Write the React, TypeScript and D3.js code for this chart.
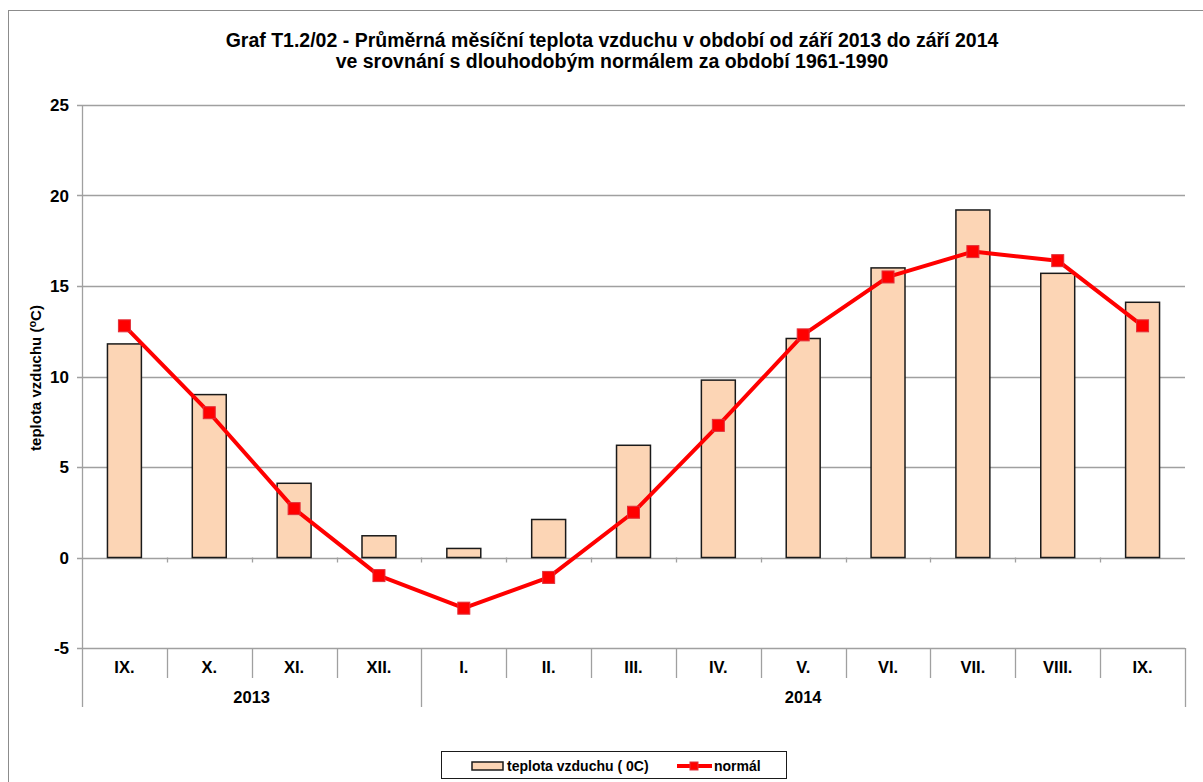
import React, { useEffect, useRef } from "react";
import * as d3 from "d3";

const months = ["IX.", "X.", "XI.", "XII.", "I.", "II.", "III.", "IV.", "V.", "VI.", "VII.", "VIII.", "IX."];
const years = [
    { label: "2013", from: 0, to: 3 },
    { label: "2014", from: 4, to: 12 },
];
const temperature = [11.8, 9.0, 4.1, 1.2, 0.5, 2.1, 6.2, 9.8, 12.1, 16.0, 19.2, 15.7, 14.1];
const normal = [12.8, 8.0, 2.7, -1.0, -2.8, -1.1, 2.5, 7.3, 12.3, 15.5, 16.9, 16.4, 12.8];
const yTicks = [-5, 0, 5, 10, 15, 20, 25];

const title1 = "Graf T1.2/02 - Průměrná měsíční teplota vzduchu v období od září 2013 do září 2014";
const title2 = "ve srovnání s dlouhodobým normálem za období 1961-1990";

const FONT = "'Liberation Sans', Arial, sans-serif";

const App = () => {
    const chartRef = useRef<SVGSVGElement>(null);

    useEffect(() => {
        drawChart();
    }, []);

    const drawChart = () => {
        const svg = d3.select(chartRef.current);
        svg.selectAll("*").remove();

        const left = 82, right = 1185, top = 105, bottom = 648;
        const idx = months.map((_, i) => i);

        const x = d3.scaleBand<number>().domain(idx).range([left, right]).paddingInner(0).paddingOuter(0);
        const y = d3.scaleLinear().domain([-5, 25]).range([bottom, top]);
        const bw = x.bandwidth();
        const barW = bw * 0.4;

        // outer frame
        svg.append("rect")
            .attr("x", 8.5).attr("y", 10.5)
            .attr("width", 1200).attr("height", 780)
            .attr("fill", "white").attr("stroke", "#8c8c8c").attr("stroke-width", 1);

        // title
        const t = svg.append("text")
            .attr("text-anchor", "middle")
            .attr("font-family", FONT).attr("font-weight", "bold").attr("font-size", 19.5);
        t.append("tspan").attr("x", 612).attr("y", 47).text(title1);
        t.append("tspan").attr("x", 612).attr("y", 68).text(title2);

        // gridlines
        svg.append("g").selectAll("line")
            .data(yTicks)
            .enter().append("line")
            .attr("x1", left - 5).attr("x2", right)
            .attr("y1", d => Math.round(y(d)) + 0.5).attr("y2", d => Math.round(y(d)) + 0.5)
            .attr("stroke", "#a0a0a0").attr("stroke-width", 1.3);

        // y axis line (extends down through category area)
        svg.append("line")
            .attr("x1", left + 0.5).attr("x2", left + 0.5)
            .attr("y1", top).attr("y2", 707)
            .attr("stroke", "#a0a0a0").attr("stroke-width", 1.3);

        // y tick labels
        svg.append("g").selectAll("text")
            .data(yTicks)
            .enter().append("text")
            .attr("x", 69).attr("y", d => y(d) + 6)
            .attr("text-anchor", "end")
            .attr("font-family", FONT).attr("font-weight", "bold").attr("font-size", 17)
            .text(d => d);

        // small ticks under the zero line
        svg.append("g").selectAll("line")
            .data(idx.slice(1))
            .enter().append("line")
            .attr("x1", d => Math.round(x(d)!) + 0.5).attr("x2", d => Math.round(x(d)!) + 0.5)
            .attr("y1", y(0)).attr("y2", y(0) + 5)
            .attr("stroke", "#a0a0a0").attr("stroke-width", 1.3);

        // category dividers
        const yearEdges = new Set(years.map(g => g.from).concat([months.length]));
        svg.append("g").selectAll("line")
            .data(idx.slice(1).concat([months.length]))
            .enter().append("line")
            .attr("x1", d => Math.round(d === months.length ? right : x(d)!) + 0.5)
            .attr("x2", d => Math.round(d === months.length ? right : x(d)!) + 0.5)
            .attr("y1", bottom)
            .attr("y2", d => (yearEdges.has(d) ? 707 : 678))
            .attr("stroke", "#a0a0a0").attr("stroke-width", 1.3);

        // month labels
        svg.append("g").selectAll("text")
            .data(idx)
            .enter().append("text")
            .attr("x", d => x(d)! + bw / 2).attr("y", 673)
            .attr("text-anchor", "middle")
            .attr("font-family", FONT).attr("font-weight", "bold").attr("font-size", 16.5)
            .text(d => months[d]);

        // year labels
        svg.append("g").selectAll("text")
            .data(years)
            .enter().append("text")
            .attr("x", d => (x(d.from)! + x(d.to)! + bw) / 2).attr("y", 703)
            .attr("text-anchor", "middle")
            .attr("font-family", FONT).attr("font-weight", "bold").attr("font-size", 16.5)
            .text(d => d.label);

        // bars
        svg.append("g").selectAll("rect")
            .data(temperature)
            .enter().append("rect")
            .attr("x", (d, i) => x(i)! + (bw - barW) / 2)
            .attr("width", barW)
            .attr("y", d => y(Math.max(0, d)))
            .attr("height", d => Math.abs(y(d) - y(0)))
            .attr("fill", "#fcd5b5")
            .attr("stroke", "#1a1a1a").attr("stroke-width", 1.5);

        // normal line
        const line = d3.line<number>()
            .x((d, i) => x(i)! + bw / 2)
            .y(d => y(d));
        svg.append("path")
            .datum(normal)
            .attr("d", line)
            .attr("fill", "none")
            .attr("stroke", "#ff0000").attr("stroke-width", 4)
            .attr("stroke-linejoin", "round");

        svg.append("g").selectAll("rect")
            .data(normal)
            .enter().append("rect")
            .attr("x", (d, i) => x(i)! + bw / 2 - 6)
            .attr("y", d => y(d) - 6)
            .attr("width", 12).attr("height", 12)
            .attr("fill", "#ff0000")
            .attr("stroke", "#e0303a").attr("stroke-width", 1);

        // y axis title
        const yt = svg.append("text")
            .attr("transform", "translate(41,378) rotate(-90)")
            .attr("text-anchor", "middle")
            .attr("font-family", FONT).attr("font-weight", "bold").attr("font-size", 15);
        yt.append("tspan").text("teplota vzduchu (");
        yt.append("tspan").attr("font-size", 11).attr("dy", -5).text("o");
        yt.append("tspan").attr("dy", 5).text("C)");

        // legend
        const lg = svg.append("g");
        lg.append("rect")
            .attr("x", 441.5).attr("y", 751.5).attr("width", 345).attr("height", 27)
            .attr("fill", "white").attr("stroke", "#1a1a1a").attr("stroke-width", 1);
        lg.append("rect")
            .attr("x", 472).attr("y", 762).attr("width", 31).attr("height", 8)
            .attr("fill", "#fcd5b5").attr("stroke", "#1a1a1a").attr("stroke-width", 1.5);
        lg.append("text")
            .attr("x", 507).attr("y", 771)
            .attr("font-family", FONT).attr("font-weight", "bold").attr("font-size", 14)
            .text("teplota vzduchu ( 0C)");
        lg.append("line")
            .attr("x1", 677).attr("x2", 712).attr("y1", 766).attr("y2", 766)
            .attr("stroke", "#ff0000").attr("stroke-width", 4);
        lg.append("rect")
            .attr("x", 690).attr("y", 762).attr("width", 8).attr("height", 8)
            .attr("fill", "#ff0000").attr("stroke", "#e0303a").attr("stroke-width", 1);
        lg.append("text")
            .attr("x", 714).attr("y", 771)
            .attr("font-family", FONT).attr("font-weight", "bold").attr("font-size", 14)
            .text("normál");
    };

    return (
        <svg
            ref={chartRef}
            width={1203}
            height={782}
            style={{ position: "absolute", left: 0, top: 0, background: "white" }}
        />
    );
};

export default App;
